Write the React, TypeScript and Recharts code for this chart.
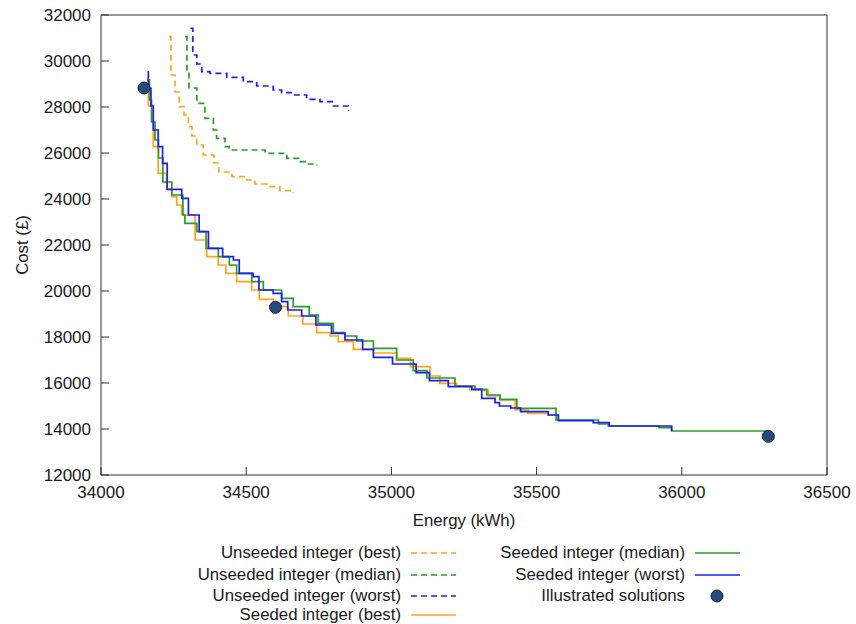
import { ComposedChart, Line, Scatter, XAxis, YAxis } from "recharts";

// energy (kWh), cost (£)
const unseededBest: [number, number][] = [
  [34234, 31057], [34241, 29391], [34255, 28652], [34269, 28013], [34286, 27652],
  [34301, 27143], [34313, 26739], [34330, 26348], [34352, 25913], [34389, 25565],
  [34406, 25174], [34451, 24970], [34502, 24826], [34530, 24652], [34582, 24535],
  [34616, 24361], [34662, 24248],
];

const unseededMedian: [number, number][] = [
  [34289, 31057], [34296, 29609], [34303, 28826], [34330, 28161], [34358, 27509],
  [34387, 27000], [34398, 26639], [34427, 26274], [34441, 26130], [34565, 25987],
  [34640, 25770], [34685, 25622], [34708, 25522], [34743, 25457],
];

const unseededWorst: [number, number][] = [
  [34308, 31422], [34316, 30261], [34330, 29870], [34347, 29535], [34375, 29465],
  [34433, 29291], [34490, 29100], [34536, 28913], [34593, 28739], [34622, 28622],
  [34662, 28522], [34708, 28335], [34754, 28230], [34800, 28043], [34852, 27826],
];

const seededBest: [number, number][] = [
  [34157, 28739], [34163, 28043], [34180, 26274], [34197, 25117], [34226, 24422],
  [34243, 24100], [34261, 23739], [34278, 23304], [34324, 22217], [34364, 21491],
  [34404, 21130], [34430, 20770], [34467, 20404], [34519, 20044], [34545, 19639],
  [34593, 19317], [34645, 18913], [34695, 18565], [34743, 18187], [34789, 18043],
  [34817, 17796], [34869, 17465], [34938, 17304], [35018, 17074], [35066, 16709],
  [35133, 16304], [35167, 15987], [35225, 15870], [35271, 15696], [35333, 15435],
  [35374, 15261], [35426, 14826], [35470, 14683], [35540, 14609], [35575, 14361],
];

const seededMedian: [number, number][] = [
  [34160, 29174], [34167, 28304], [34174, 27348], [34186, 26565], [34198, 25783],
  [34213, 24739], [34244, 24174], [34282, 23304], [34289, 22944], [34330, 22578],
  [34362, 21857], [34404, 21491], [34442, 21130], [34467, 20770], [34519, 20404],
  [34559, 20044], [34622, 19683], [34662, 19317], [34717, 18957], [34748, 18596],
  [34800, 18187], [34840, 18043], [34881, 17826], [34938, 17509], [35018, 17000],
  [35075, 16535], [35122, 16217], [35219, 15870], [35288, 15726], [35328, 15478],
  [35374, 15291], [35432, 14900], [35567, 14391], [35713, 14217], [35747, 14130],
  [35922, 14057], [35965, 13913], [36298, 13913],
];

const seededWorst: [number, number][] = [
  [34163, 29565], [34163, 28813], [34172, 28043], [34180, 27000], [34197, 26274],
  [34212, 25552], [34228, 24422], [34278, 24030], [34301, 23304], [34338, 22578],
  [34370, 21857], [34419, 21491], [34456, 21348], [34476, 20770], [34524, 20622],
  [34544, 20044], [34593, 19900], [34622, 19535], [34643, 19174], [34691, 18913],
  [34740, 18522], [34794, 18161], [34840, 17870], [34901, 17465], [34938, 17117],
  [35004, 16826], [35085, 16448], [35131, 16100], [35196, 15839], [35277, 15726],
  [35311, 15335], [35357, 15144], [35372, 15000], [35411, 14913], [35445, 14752],
  [35540, 14609], [35575, 14361], [35695, 14274], [35750, 14130], [35965, 13913],
];

const illustrated: [number, number][] = [
  [34148, 28826], [34601, 19290], [36298, 13680],
];

const xTicks = [34000, 34500, 35000, 35500, 36000, 36500];
const yTicks = [12000, 14000, 16000, 18000, 20000, 22000, 24000, 26000, 28000, 30000, 32000];

const ORANGE = "#ffa41b";
const GREEN = "#2a9d2a";
const BLUE = "#1f1fef";
const DOT = "#25497a";

const series = [
  { name: "Unseeded integer (best)", data: unseededBest, color: ORANGE, dashed: true },
  { name: "Unseeded integer (median)", data: unseededMedian, color: GREEN, dashed: true },
  { name: "Unseeded integer (worst)", data: unseededWorst, color: BLUE, dashed: true },
  { name: "Seeded integer (best)", data: seededBest, color: ORANGE, dashed: false },
  { name: "Seeded integer (median)", data: seededMedian, color: GREEN, dashed: false },
  { name: "Seeded integer (worst)", data: seededWorst, color: BLUE, dashed: false },
];

const toPts = (a: [number, number][]) => a.map(([x, y]) => ({ x, y }));

const FONT = "'Liberation Sans', Arial, sans-serif";
const TXT = "#1a1a1a";
const AX = "#333";
const M = 10; // gap between axis and tick label
const TL = 8; // inward tick length

const BottomTick = ({ x, y, payload }: any) => (
  <g>
    <line x1={x} y1={y - M} x2={x} y2={y - M - TL} stroke={AX} />
    <text x={x} y={y} dy="0.75em" textAnchor="middle" fontSize={17} fill={TXT} fontFamily={FONT}>
      {payload.value}
    </text>
  </g>
);

const LeftTick = ({ x, y, payload }: any) => (
  <g>
    <line x1={x + M} y1={y} x2={x + M + TL} y2={y} stroke={AX} />
    <text x={x} y={y} dy="0.36em" textAnchor="end" fontSize={17} fill={TXT} fontFamily={FONT}>
      {payload.value}
    </text>
  </g>
);

const TopTick = ({ x, y }: any) => <line x1={x} y1={y} x2={x} y2={y + TL} stroke={AX} />;
const RightTick = ({ x, y }: any) => <line x1={x} y1={y} x2={x - TL} y2={y} stroke={AX} />;

const Dot = ({ cx, cy }: any) => (
  <circle cx={cx} cy={cy} r={6} fill={DOT} stroke="#14243d" strokeWidth={1} />
);

// 범례: 왼쪽 4개, 오른쪽 2개 + 점
const legendLeft = series.slice(0, 4);
const legendRight = series.slice(4);
const rowY = [553, 574.5, 596, 615];

const LegendRow = ({ label, right, y, children }: any) => (
  <div
    style={{
      position: "absolute",
      top: y - 10,
      left: 0,
      width: right,
      height: 20,
      display: "flex",
      justifyContent: "flex-end",
      alignItems: "center",
    }}
  >
    <span style={{ fontSize: 16.8, color: TXT, fontFamily: FONT, whiteSpace: "nowrap" }}>{label}</span>
    <svg width={56} height={20} style={{ flex: "none" }}>
      {children}
    </svg>
  </div>
);

export default function App() {
  return (
    <div style={{ position: "absolute", left: 0, top: 0, width: 856, height: 624, background: "#fff" }}>
      <ComposedChart width={856} height={624} margin={{ top: 14, right: 28, bottom: 119, left: 0 }}>
        <XAxis
          xAxisId="b"
          dataKey="x"
          type="number"
          domain={[34000, 36500]}
          ticks={xTicks}
          interval={0}
          height={30}
          tickSize={0}
          tickMargin={M}
          tick={<BottomTick />}
          axisLine={{ stroke: AX }}
        />
        <XAxis
          xAxisId="t"
          orientation="top"
          dataKey="x"
          type="number"
          domain={[34000, 36500]}
          ticks={xTicks}
          interval={0}
          height={1}
          tickSize={0}
          tickMargin={0}
          tick={<TopTick />}
          axisLine={{ stroke: AX }}
        />
        <YAxis
          yAxisId="l"
          type="number"
          domain={[12000, 32000]}
          ticks={yTicks}
          interval={0}
          width={101}
          tickSize={0}
          tickMargin={M}
          tick={<LeftTick />}
          axisLine={{ stroke: AX }}
        />
        <YAxis
          yAxisId="r"
          orientation="right"
          type="number"
          domain={[12000, 32000]}
          ticks={yTicks}
          interval={0}
          width={1}
          tickSize={0}
          tickMargin={0}
          tick={<RightTick />}
          axisLine={{ stroke: AX }}
        />
        {series.map((s) => (
          <Line
            key={s.name}
            xAxisId="b"
            yAxisId="l"
            data={toPts(s.data)}
            dataKey="y"
            type="stepAfter"
            stroke={s.color}
            strokeWidth={1.7}
            strokeDasharray={s.dashed ? "6 4" : undefined}
            dot={false}
            activeDot={false}
            isAnimationActive={false}
          />
        ))}
        <Scatter
          xAxisId="b"
          yAxisId="l"
          data={toPts(illustrated)}
          dataKey="y"
          shape={<Dot />}
          isAnimationActive={false}
        />
      </ComposedChart>

      {/* axis titles */}
      <div
        style={{
          position: "absolute",
          top: 511,
          left: 364,
          width: 200,
          textAlign: "center",
          fontSize: 16.8,
          color: TXT,
          fontFamily: FONT,
        }}
      >
        Energy (kWh)
      </div>
      <div
        style={{
          position: "absolute",
          top: 235,
          left: -27,
          width: 100,
          height: 20,
          textAlign: "center",
          fontSize: 16.8,
          color: TXT,
          fontFamily: FONT,
          transform: "rotate(-90deg)",
        }}
      >
        Cost (£)
      </div>

      {/* legend */}
      {legendLeft.map((s, i) => (
        <LegendRow key={s.name} label={s.name} right={457} y={rowY[i]}>
          <line x1={10} y1={10} x2={55} y2={10} stroke={s.color} strokeWidth={1.7} strokeDasharray={s.dashed ? "6 4" : undefined} />
        </LegendRow>
      ))}
      {legendRight.map((s, i) => (
        <LegendRow key={s.name} label={s.name} right={741} y={rowY[i]}>
          <line x1={10} y1={10} x2={55} y2={10} stroke={s.color} strokeWidth={1.7} />
        </LegendRow>
      ))}
      <LegendRow label="Illustrated solutions" right={741} y={rowY[2]}>
        <circle cx={32} cy={10} r={6} fill={DOT} stroke="#14243d" />
      </LegendRow>
    </div>
  );
}
